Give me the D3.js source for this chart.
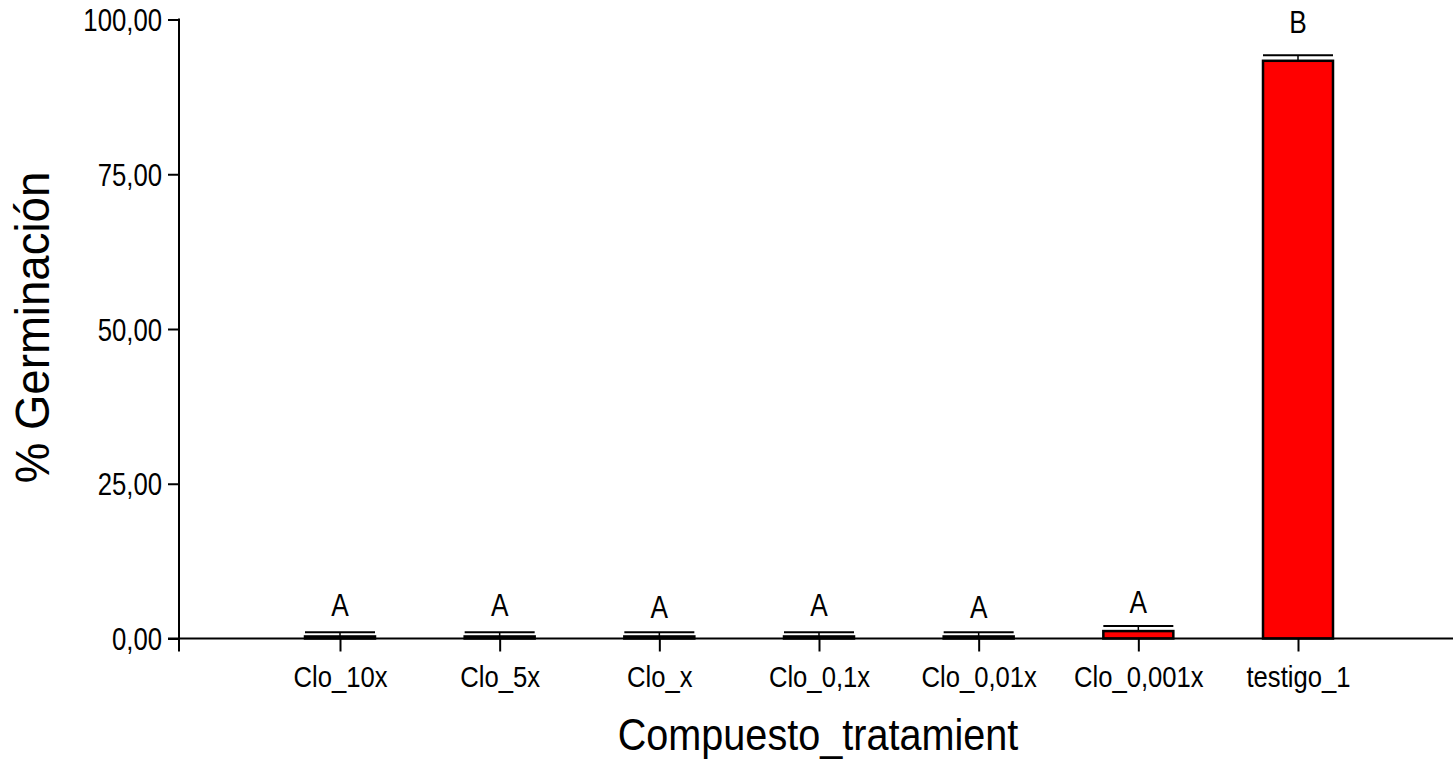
<!DOCTYPE html>
<html>
<head>
<meta charset="utf-8">
<script src="https://cdn.jsdelivr.net/npm/d3@7"></script>
<style>
  html, body { margin: 0; padding: 0; background: #fff; }
  svg { display: block; }
  text { font-family: "Liberation Sans", Arial, Helvetica, sans-serif; fill: #000; }
</style>
</head>
<body>
<svg id="chart" width="1453" height="766"></svg>
<script>
// ---- data ----
const categories = ["Clo_10x", "Clo_5x", "Clo_x", "Clo_0,1x", "Clo_0,01x", "Clo_0,001x", "testigo_1"];
const means      = [0.33, 0.33, 0.33, 0.33, 0.33, 1.2, 93.33];
const errors     = [0.67, 0.67, 0.67, 0.67, 0.67, 0.8, 0.9];
const letters    = ["A", "A", "A", "A", "A", "A", "B"];
const letterPos  = [3.6, 3.6, 3.3, 3.6, 3.3, 4.1, 97.8];   // letter baseline, in % units
const yTicks     = [0, 25, 50, 75, 100];
const xTitle = "Compuesto_tratamient";
const yTitle = "% Germinación";

// ---- layout ----
const W = 1453, H = 766;
const axisX = 179;           // y axis position
const yTop = 19.5, yBottom = 638.5;
const svg = d3.select("#chart");

const y = d3.scaleLinear().domain([0, 100]).range([yBottom, yTop]);
const x = d3.scalePoint().domain(categories).range([340, 1298]);
const barW = 70;

const locale = d3.formatLocale({decimal: ",", thousands: ".", grouping: [3], currency: ["", ""]});
const fmt = locale.format(".2f");

const data = categories.map((c, i) => ({c, m: means[i], e: errors[i], l: letters[i], lp: letterPos[i]}));

// ---- bars ----
svg.append("g").selectAll("rect").data(data).join("rect")
  .attr("x", d => x(d.c) - barW / 2)
  .attr("width", barW)
  .attr("y", d => y(d.m))
  .attr("height", d => y(0) - y(d.m))
  .attr("fill", "#ff0000")
  .attr("stroke", "#000")
  .attr("stroke-width", 2.5);

// error bars
const eb = svg.append("g").attr("stroke", "#000");
eb.selectAll("line.v").data(data).join("line").attr("class", "v")
  .attr("x1", d => x(d.c)).attr("x2", d => x(d.c))
  .attr("y1", d => y(d.m)).attr("y2", d => y(d.m + d.e))
  .attr("stroke-width", 1.5);
eb.selectAll("line.cap").data(data).join("line").attr("class", "cap")
  .attr("x1", d => x(d.c) - barW / 2).attr("x2", d => x(d.c) + barW / 2)
  .attr("y1", d => y(d.m + d.e)).attr("y2", d => y(d.m + d.e))
  .attr("stroke-width", 2);

// letters
svg.append("g").selectAll("g").data(data).join("g")
  .attr("transform", d => `translate(${x(d.c)},${y(d.lp)}) scale(0.82,1)`)
  .append("text")
  .attr("text-anchor", "middle")
  .style("font-size", "32px")
  .text(d => d.l);

// ---- axes ----
const yAxis = d3.axisLeft(y).tickValues(yTicks).tickSize(11).tickSizeOuter(0).tickFormat(fmt);
const gy = svg.append("g").attr("transform", `translate(${axisX},0)`).call(yAxis);
gy.select(".domain").remove();
gy.selectAll(".tick line").attr("stroke", "#000").attr("stroke-width", 2);
gy.selectAll(".tick text")
  .style("font-size", "31px")
  .attr("x", -17 / 0.83)
  .attr("dy", "0.36em")
  .attr("transform", "scale(0.83,1)");

const xAxis = d3.axisBottom(x).tickSize(13).tickSizeOuter(0);
const gx = svg.append("g").attr("transform", `translate(0,${yBottom})`).call(xAxis);
gx.select(".domain").remove();
gx.selectAll(".tick line").attr("stroke", "#000").attr("stroke-width", 2);
gx.selectAll(".tick text")
  .style("font-size", "30px")
  .attr("x", 0)
  .attr("y", 48.5)
  .attr("dy", 0)
  .attr("transform", "scale(0.855,1)");

// axis lines
svg.append("line")
  .attr("x1", axisX).attr("x2", axisX)
  .attr("y1", y(100) - 1).attr("y2", y(0) + 13)
  .attr("stroke", "#000").attr("stroke-width", 2);
svg.append("line")
  .attr("x1", axisX - 11).attr("x2", W)
  .attr("y1", y(0)).attr("y2", y(0))
  .attr("stroke", "#000").attr("stroke-width", 2);

// ---- titles ----
svg.append("g")
  .attr("transform", `translate(818,750) scale(0.9,1)`)
  .append("text")
  .attr("text-anchor", "middle")
  .style("font-size", "44px")
  .text(xTitle);

svg.append("g")
  .attr("transform", `translate(49,${(168 + 487) / 2}) rotate(-90) scale(0.95,1)`)
  .append("text")
  .attr("text-anchor", "middle")
  .style("font-size", "48px")
  .text(yTitle);
</script>
</body>
</html>
